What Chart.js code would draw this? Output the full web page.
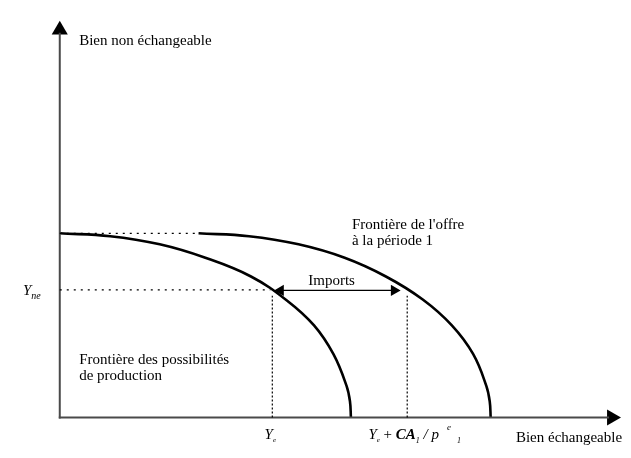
<!DOCTYPE html>
<html>
<head>
<meta charset="utf-8">
<script src="https://cdn.jsdelivr.net/npm/chart.js@4.4.1/dist/chart.umd.min.js"></script>
<style>
  html, body { margin: 0; padding: 0; background: #fff; }
  #frontier { display: block; }
</style>
</head>
<body>
<canvas id="frontier" width="631" height="458"></canvas>
<script>

// ----------------- DATA (quantities) -----------------------------------------

// Frontière des possibilités de production
let frontier_x = [0, 52, 103, 150, 197, 234, 262, 282, 295.5, 299, 300];
let frontier_y = [192, 189, 180.5, 166.5, 147, 122, 96, 66, 33, 17, 0];

// Frontière de l'offre à la période 1
let offer_x = [143, 195, 246, 293.5, 336, 374, 404, 426, 439.5, 443, 444];
let offer_y = [192, 189, 180.5, 166.5, 147, 123, 96, 66, 33, 17, 0];

let y_top = 192;       // intercept on the vertical axis
let y_ne = 133;        // Y_ne
let y_e = 219;         // Y_e
let y_e_ca = 358;      // Y_e + CA_1 / p^e_1

let x_title = 'Bien échangeable';
let y_title = 'Bien non échangeable';
let offer_label = ["Frontière de l'offre", 'à la période 1'];
let ppf_label = ['Frontière des possibilités', 'de production'];
let imports_label = 'Imports';


// ----------------- HELPERS ---------------------------------------------------

function pts(xs, ys) {
    return xs.map((x, i) => ({ x: x, y: ys[i] }));
}

function segment(a, b, dash, width, color) {
    return {
        data: [a, b],
        showLine: true,
        borderColor: color || '#000',
        borderWidth: width || 1,
        borderDash: dash || [],
        pointRadius: 0,
        tension: 0
    };
}

function head(p, rotation, radius, color) {
    return {
        data: [p],
        showLine: false,
        pointStyle: 'triangle',
        pointRotation: rotation,
        pointRadius: radius,
        pointBackgroundColor: color,
        pointBorderWidth: 0
    };
}

const serif = '"Liberation Serif", "Times New Roman", serif';

function draw_runs(ctx, x, y, runs) {
    let cx = x;
    for (let r of runs) {
        ctx.font = (r.style || '') + ' ' + r.size + 'px ' + serif;
        cx += (r.dx || 0);
        ctx.fillText(r.text, cx, y + (r.dy || 0));
        cx += ctx.measureText(r.text).width;
    }
}

// labels anchored in data units (left, baseline)
let labels = [
    { x: 20, y: 388, runs: [{ text: y_title, size: 15 }] },
    { x: 470, y: -26, runs: [{ text: x_title, size: 15 }] },
    { x: 301, y: 197, runs: [{ text: offer_label[0], size: 15 }] },
    { x: 301, y: 180, runs: [{ text: offer_label[1], size: 15 }] },
    { x: 256, y: 138, runs: [{ text: imports_label, size: 15 }] },
    { x: 20, y: 56, runs: [{ text: ppf_label[0], size: 15 }] },
    { x: 20, y: 39, runs: [{ text: ppf_label[1], size: 15 }] },
    { x: -38, y: 128, runs: [
        { text: 'Y', size: 15, style: 'italic' },
        { text: 'ne', size: 10, style: 'italic', dy: 4 }
    ] },
    { x: 211, y: -22, runs: [
        { text: 'Y', size: 15, style: 'italic' },
        { text: 'e', size: 7, style: 'italic', dy: 3 }
    ] },
    { x: 318, y: -22, runs: [
        { text: 'Y', size: 15, style: 'italic' },
        { text: 'e', size: 7, style: 'italic', dy: 3 },
        { text: ' + ', size: 15 },
        { text: 'CA', size: 15, style: 'italic bold' },
        { text: '1', size: 8, style: 'italic', dy: 4 },
        { text: ' / ', size: 15, style: 'italic' },
        { text: 'p', size: 15, style: 'italic' },
        { text: 'e', size: 9, style: 'italic', dy: -9, dx: 8 },
        { text: '1', size: 8, style: 'italic', dy: 4, dx: 6 }
    ] }
];

const text_plugin = {
    id: 'text_plugin',
    afterDatasetsDraw(chart) {
        let ctx = chart.ctx;
        let sx = chart.scales.x, sy = chart.scales.y;
        ctx.save();
        ctx.fillStyle = '#000';
        ctx.textBaseline = 'alphabetic';
        ctx.textAlign = 'left';
        for (let l of labels) {
            draw_runs(ctx, sx.getPixelForValue(l.x), sy.getPixelForValue(l.y), l.runs);
        }
        ctx.restore();
    }
};


// ----------------- THE CHART -------------------------------------------------

let axis_color = '#4a4a4a';

var frontier_context = document.getElementById('frontier').getContext('2d');
var frontier_chart = new Chart(frontier_context, {
    type: 'scatter',
    data: {
        datasets: [
            // dotted guides
            segment({ x: 0, y: y_top }, { x: offer_x[0], y: y_top }, [2, 5], 1.2),
            segment({ x: 0, y: y_ne }, { x: y_e - 2, y: y_ne }, [2, 5], 1.2),
            segment({ x: y_e, y: 0 }, { x: y_e, y: y_ne - 6 }, [2, 2], 1.2),
            segment({ x: y_e_ca, y: 0 }, { x: y_e_ca, y: y_ne - 6 }, [2, 2], 1.2),
            // axes
            segment({ x: 0, y: -1 }, { x: 0, y: 401 }, [], 2, axis_color),
            segment({ x: -1, y: 0 }, { x: 566, y: 0 }, [], 2, axis_color),
            head({ x: 0, y: 404 }, 0, 9.3, '#000'),
            head({ x: 568.7, y: 0 }, 90, 9.3, '#000'),
            // imports arrow
            segment({ x: y_e + 4, y: y_ne - 0.5 }, { x: y_e_ca - 9, y: y_ne - 0.5 }, [], 1.3),
            head({ x: y_e + 8.5, y: y_ne - 0.5 }, -90, 6.5, '#000'),
            head({ x: y_e_ca - 13.5, y: y_ne - 0.5 }, 90, 6.5, '#000'),
            // frontiers
            {
                data: pts(frontier_x, frontier_y),
                showLine: true,
                borderColor: '#000',
                borderWidth: 2.6,
                pointRadius: 0,
                tension: 0.4
            },
            {
                data: pts(offer_x, offer_y),
                showLine: true,
                borderColor: '#000',
                borderWidth: 2.6,
                pointRadius: 0,
                tension: 0.4
            }
        ]
    },
    options: {
        responsive: false,
        animation: false,
        devicePixelRatio: 1,
        layout: { padding: 0 },
        scales: {
            x: { type: 'linear', min: -52, max: 579, display: false },
            y: { type: 'linear', min: -32.5, max: 425.5, display: false }
        },
        plugins: {
            legend: { display: false },
            tooltip: { enabled: false }
        }
    },
    plugins: [text_plugin]
});
</script>
</body>
</html>
